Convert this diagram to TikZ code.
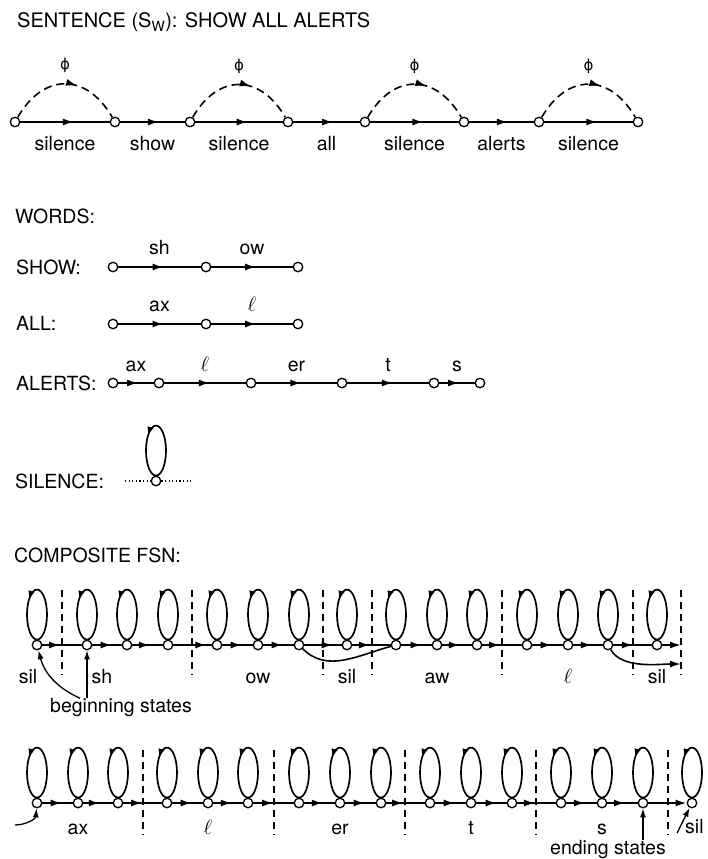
\documentclass[tikz,border=0pt]{standalone}
\usepackage{fontspec}
\setmainfont{TeX Gyre Heros}
\newfontfamily\greekfont{DejaVu Sans}
\usetikzlibrary{arrows.meta,decorations.markings,positioning}

\begin{document}
\begin{tikzpicture}[
    x=1pt, y=1pt,
    font=\fontsize{19.5}{22}\selectfont,
    state/.style={circle, draw, fill=white, line width=1.3pt,
                inner sep=0pt, minimum size=9.5pt},
    lbl/.style={inner sep=0pt, text height=13.5pt, text depth=4pt},
    rowname/.style={anchor=base west, inner sep=0pt},
    trans/.style={line width=1.8pt, postaction={decorate},
                decoration={markings, mark=at position #1 with
                  {\arrow{Latex[length=11pt,width=7pt]}}}},
    trans/.default=0.6,
    skiparc/.style={trans=0.6, dash pattern=on 8pt off 5pt, line width=1.6pt},
    selfloop/.style={line width=1.7pt, postaction={decorate},
                decoration={markings, mark=at position 0.37 with
                  {\arrow{Latex[length=9pt,width=6.5pt]}}}},
    boundary/.style={line width=1.2pt, dash pattern=on 7pt off 5pt},
    ptr/.style={line width=1.3pt, -{Latex[length=9pt,width=6pt]}},
]
\path[use as bounding box, fill=white] (0,0) rectangle (707,-859);

% sentence network
\node[rowname, font=\fontsize{20}{24}\selectfont] (ttl) at (17,-28)
    {SENTENCE (S\textsubscript{W}): SHOW ALL ALERTS};
\foreach \n/\x in {0/15,1/115,2/190,3/288,4/365,5/464,6/539,7/638}
    \node[state] (s\n) at (\x,-122) {};
\foreach \a/\b/\w in {0/1/silence,1/2/show,2/3/silence,3/4/all,4/5/silence,5/6/alerts,6/7/silence}
    \draw[trans] (s\a) -- node[lbl, below=14.5pt] {\w} (s\b);
\foreach \a/\b in {0/1,2/3,4/5,6/7}
    \draw[skiparc] (s\a) to[out=60,in=120,looseness=1.4]
        node[above=10pt, inner sep=0pt, font=\greekfont\fontsize{15}{18}\selectfont] {ϕ} (s\b);

% word models
\node[rowname] at (15,-223) {WORDS:};

\node[rowname] at (16,-274) {SHOW:};
\foreach \n/\x in {1/113,2/206,3/298}
    \node[state] (sh\n) at (\x,-267) {};
\draw[trans=0.55] (sh1) -- node[lbl, above=8pt] {sh} (sh2);
\draw[trans=0.55] (sh2) -- node[lbl, above=8pt] {ow} (sh3);

\node[rowname] at (16,-330) {ALL:};
\foreach \n/\x in {1/113,2/206,3/298}
    \node[state] (al\n) at (\x,-324) {};
\draw[trans=0.55] (al1) -- node[lbl, above=8pt] {ax} (al2);
\draw[trans=0.55] (al2) -- node[lbl, above=8pt] {$\ell$} (al3);

\node[rowname] at (16,-390) {ALERTS:};
\foreach \n/\x in {1/113,2/159,3/251,4/342,5/434,6/480}
    \node[state] (at\n) at (\x,-383) {};
\foreach \a/\b/\w in {1/2/ax,2/3/$\ell$,3/4/er,4/5/t,5/6/s}
    \draw[trans=0.56] (at\a) -- node[lbl, above=7pt] {\w} (at\b);

\node[rowname] at (15,-488) {SILENCE:};
\node[state] (sil) at (156,-481) {};
\coordinate (dl) at (125,-481);
\coordinate (dr) at (192,-481);
\draw[line width=1.1pt, dash pattern=on 1.2pt off 2.4pt] (dl) -- (sil) -- (dr);
\draw[selfloop] ([yshift=25pt]sil.north) ellipse [x radius=10pt, y radius=25pt];

% composite network, first line
\node[rowname] at (14,-562) {COMPOSITE FSN:};
\foreach \x in {62,192,323,372,502,633,681}
    \draw[boundary] (\x,-590) -- (\x,-675);
\foreach \n/\x in {1/37,2/87,3/127,4/168,5/217,6/258,7/299,8/347,
                   9/396,10/437,11/477,12/527,13/568,14/608,15/657}
    \node[state] (c\n) at (\x,-645) {};
\coordinate (cend) at (681,-645);
\coordinate (skipend) at (681,-664);
\foreach \a/\b/\p in {1/2/0.45,2/3/0.66,3/4/0.58,4/5/0.86,5/6/0.64,6/7/0.64,7/8/0.76,
                      8/9/0.46,9/10/0.67,10/11/0.6,11/12/0.45,12/13/0.64,13/14/0.63,14/15/0.51}
    \draw[trans=\p] (c\a) -- (c\b);
\draw[line width=1.8pt, -{Latex[length=11pt,width=7pt]}] (c15) -- (cend);
\foreach \i in {1,...,15}
    \draw[selfloop] ([yshift=25pt]c\i.north) ellipse [x radius=10pt, y radius=25pt];
\draw[line width=1.6pt] (c7) to[out=-45,in=-165] (c9);
\draw[line width=1.6pt, -{Latex[length=11pt,width=7pt]}] (c14) to[out=-60,in=180,looseness=0.8] (skipend);

\node[lbl, below=19pt of c1, xshift=-9pt] {sil};
\node[lbl, below=19pt of c2, xshift=15pt] {sh};
\node[lbl, below=19pt of c6] {ow};
\node[lbl, below=19pt of c8] {sil};
\node[lbl, below=19pt of c10] {aw};
\node[lbl, below=19pt of c13] {$\ell$};
\node[lbl, below=19pt of c15] {sil};

\node[lbl, anchor=base] (bst) at (121,-712) {beginning states};
\draw[ptr] ([xshift=-41pt]bst.north) to[out=155,in=-75] (c1);
\draw[ptr] ([xshift=-34pt]bst.north) -- (c2);

% composite network, second line
\foreach \x in {143,274,405,536,668}
    \draw[boundary] (\x,-750) -- (\x,-835);
\foreach \n/\x in {1/37,2/78,3/118,4/167,5/208,6/248,7/299,8/340,
                   9/381,10/430,11/471,12/512,13/561,14/602,15/643,16/692}
    \node[state] (d\n) at (\x,-803) {};
\foreach \a/\b/\p in {1/2/0.64,2/3/0.56,3/4/0.49,4/5/0.64,5/6/0.63,6/7/0.49,7/8/0.61,
                      8/9/0.64,9/10/0.44,10/11/0.64,11/12/0.67,12/13/0.46,13/14/0.61,14/15/0.58}
    \draw[trans=\p] (d\a) -- (d\b);
\draw[line width=1.8pt, -{Latex[length=11pt,width=7pt]}] (d15) -- (d16);
\foreach \i in {1,...,16}
    \draw[selfloop] ([yshift=25pt]d\i.north) ellipse [x radius=10pt, y radius=25pt];

\node[lbl, below=12pt of d2] {ax};
\node[lbl, below=12pt of d5] {$\ell$};
\node[lbl, below=12pt of d8] {er};
\node[lbl, below=12pt of d11] {t};
\node[lbl, below=12pt of d14] {s};
\node[lbl, anchor=base west] (silb) at (685,-833) {sil};

\coordinate (entry) at (15,-825);
\draw[ptr] (entry) to[out=0,in=-95] (d1);

\node[lbl, anchor=base] (est) at (608,-854) {ending states};
\draw[ptr] ([xshift=35pt]est.north) -- (d15);
\draw[ptr] ([xshift=-8pt,yshift=4pt]silb.south west) -- (d16);

\end{tikzpicture}
\end{document}
